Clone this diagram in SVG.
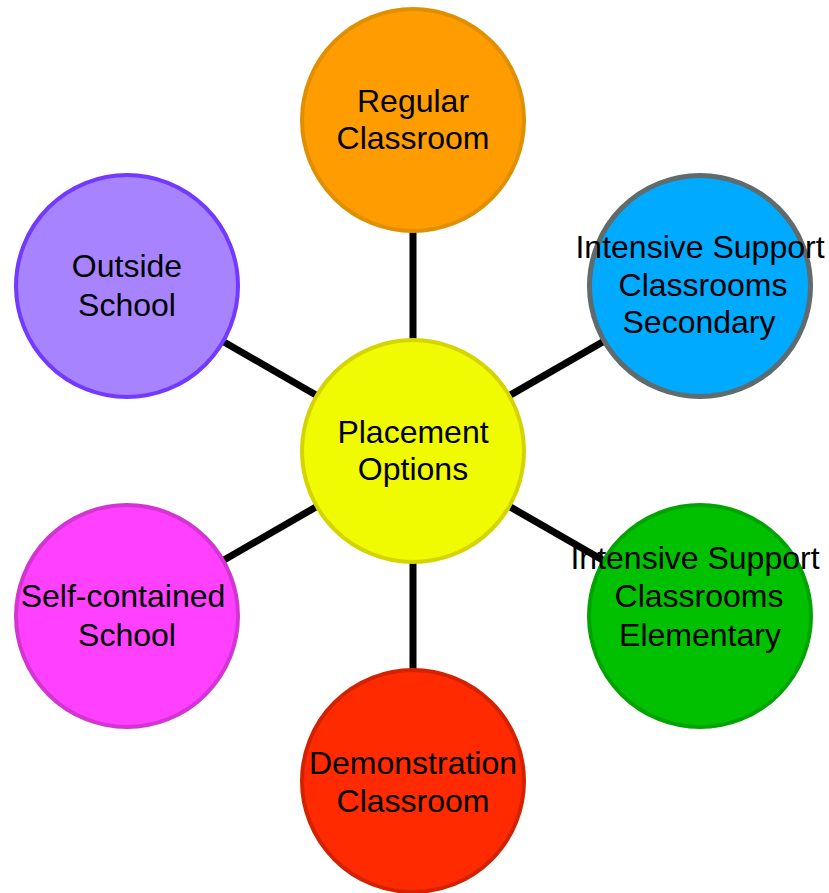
<svg xmlns="http://www.w3.org/2000/svg" width="829" height="893" viewBox="0 0 829 893">
<style>
.n{stroke-width:4}
.t{font-family:"Liberation Sans",Arial,sans-serif;font-size:32px;fill:#000;text-anchor:middle}
.c{stroke:#000;stroke-width:7;fill:none}
</style>
<rect width="829" height="893" fill="#fff"/>
<g id="connectors">
<line class="c" x1="413" y1="451" x2="413" y2="120"/>
<line class="c" x1="413" y1="451" x2="700" y2="286"/>
<line class="c" x1="413" y1="451" x2="700" y2="616"/>
<line class="c" x1="413" y1="451" x2="413" y2="781"/>
<line class="c" x1="413" y1="451" x2="127" y2="616"/>
<line class="c" x1="413" y1="451" x2="127" y2="286"/>
</g>
<g id="regular">
<circle class="n" cx="413" cy="120" r="111" fill="#ff9c00" stroke="#e08f00"/>
<text class="t" x="413" y="112">Regular</text>
<text class="t" x="413" y="149">Classroom</text>
</g>
<g id="secondary">
<circle cx="700" cy="286" r="110.5" fill="#00aaff" stroke="#5f6b6d" stroke-width="5"/>
<text class="t" x="700" y="258">Intensive Support</text>
<text class="t" x="703" y="296">Classrooms</text>
<text class="t" x="699" y="333">Secondary</text>
</g>
<g id="center">
<circle class="n" cx="413" cy="451" r="111" fill="#f0fa00" stroke="#d4d400"/>
<text class="t" x="413" y="443">Placement</text>
<text class="t" x="413" y="480">Options</text>
</g>
<g id="elementary">
<circle class="n" cx="700" cy="616" r="111" fill="#00c000" stroke="#00a300"/>
<text class="t" x="695" y="569">Intensive Support</text>
<text class="t" x="699" y="607">Classrooms</text>
<text class="t" x="700" y="646">Elementary</text>
</g>
<g id="demonstration">
<circle class="n" cx="413" cy="781" r="111" fill="#ff2a00" stroke="#d42200"/>
<text class="t" x="413" y="774">Demonstration</text>
<text class="t" x="413" y="812">Classroom</text>
</g>
<g id="selfcontained">
<circle class="n" cx="127" cy="616" r="111" fill="#ff40ff" stroke="#d335d3"/>
<text class="t" x="123" y="607">Self-contained</text>
<text class="t" x="127" y="646">School</text>
</g>
<g id="outside">
<circle class="n" cx="127" cy="286" r="111" fill="#a883ff" stroke="#7239ff"/>
<text class="t" x="127" y="277">Outside</text>
<text class="t" x="127" y="316">School</text>
</g>
</svg>
